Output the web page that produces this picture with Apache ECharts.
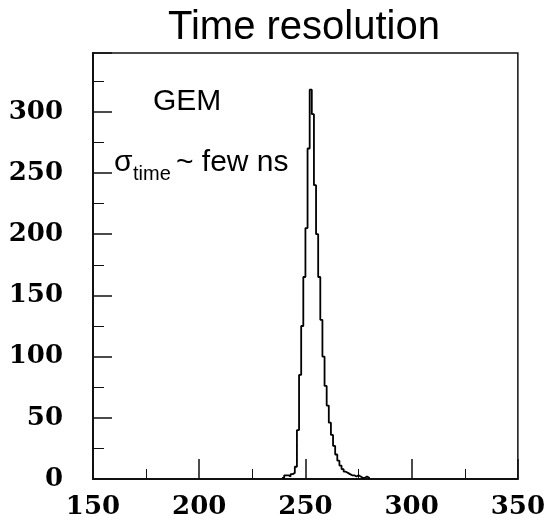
<!DOCTYPE html>
<html>
<head>
<meta charset="utf-8">
<script src="https://cdn.jsdelivr.net/npm/echarts@6/dist/echarts.min.js"></script>
<style>html,body{margin:0;padding:0;background:#fff}#c{width:548px;height:521px}</style>
</head>
<body>
<div id="c"></div>
<script>
// Histogram bins (left edges, 1 ns wide) and counts
var binLefts = [239,240,241,242,243,244,245,246,247,248,249,250,251,252,253,254,255,256,257,258,259,260,261,262,263,264,265,266,267,268,269,270,271,272,273,274,275,276,277,278,279];
var counts   = [1,3,3,2,4,5,10,40,85,125,165,205,270,318,298,240,200,165,130,100,76,60,46,36,27,20,15,11,8,6,5,4,3,3,2,3,2,1,1,2,1];
var binWidth = 1;
var xTicks = [150,200,250,300,350];
var yTicks = [0,50,100,150,200,250,300];
var titleText = 'Time resolution';
var labelGem = 'GEM';

var data = binLefts.map(function(x,i){return [x, counts[i]];});
data.push([binLefts[binLefts.length-1]+binWidth, 0]);

var chart = echarts.init(document.getElementById('c'), null, {renderer:'canvas'});
var labelFont = {fontFamily:'DejaVu Serif', fontWeight:'bold', fontSize:26, color:'#000'};
chart.setOption({
  animation:false,
  backgroundColor:'#fff',
  grid:{left:93, right:26, top:53, bottom:42, show:true, borderColor:'#111', borderWidth:1.5, backgroundColor:'transparent'},
  xAxis:{type:'value', min:150, max:350, interval:50,
    axisLine:{show:true, onZero:false, lineStyle:{color:'#111', width:2}},
    axisTick:{show:true, inside:true, length:20, lineStyle:{color:'#111', width:1.5}},
    minorTick:{show:true, splitNumber:2, length:10, lineStyle:{color:'#111', width:1}},
    splitLine:{show:false},
    axisLabel:Object.assign({margin:15, formatter:function(v){return xTicks.indexOf(v)>=0?String(v):'';}}, labelFont)
  },
  yAxis:{type:'value', min:0, max:348, interval:50,
    axisLine:{show:true, lineStyle:{color:'#111', width:2}},
    axisTick:{show:true, inside:true, length:19, lineStyle:{color:'#111', width:1.5}},
    minorTick:{show:true, splitNumber:2, length:11, lineStyle:{color:'#111', width:1}},
    splitLine:{show:false},
    axisLabel:Object.assign({margin:30, padding:[6,0,0,0], formatter:function(v){return yTicks.indexOf(v)>=0?String(v):'';}}, labelFont)
  },
  series:[{type:'line', step:'end', data:data, symbol:'none', lineStyle:{color:'#000', width:1.8}}],
  graphic:[
    {type:'text', style:{text:titleText, x:304, y:28, textAlign:'center', textVerticalAlign:'middle', fontFamily:'Liberation Sans', fontSize:40, fill:'#000'}},
    {type:'text', style:{text:labelGem, x:153, y:102, textAlign:'left', textVerticalAlign:'middle', fontFamily:'Liberation Sans', fontSize:30, fill:'#000'}},
    {type:'text', style:{text:'σ', x:114, y:163, textAlign:'left', textVerticalAlign:'middle', fontFamily:'Liberation Sans', fontSize:30, fill:'#000'}},
    {type:'text', style:{text:'time', x:133, y:174, textAlign:'left', textVerticalAlign:'middle', fontFamily:'Liberation Sans', fontSize:20, fill:'#000'}},
    {type:'text', style:{text:'~ few ns', x:176, y:163, textAlign:'left', textVerticalAlign:'middle', fontFamily:'Liberation Sans', fontSize:30, fill:'#000'}}
  ]
});
</script>
</body>
</html>
